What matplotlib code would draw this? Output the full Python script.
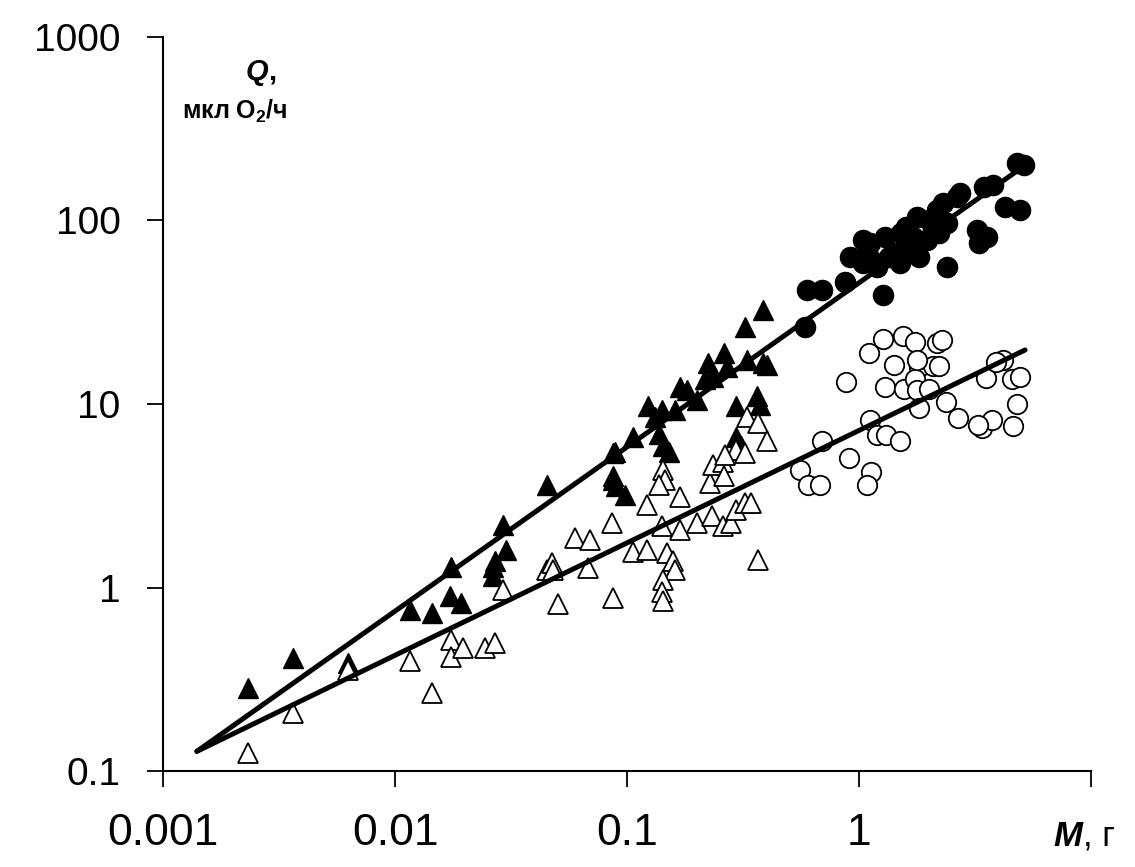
import matplotlib
matplotlib.use("Agg")
import matplotlib.pyplot as plt
from matplotlib.ticker import FixedLocator, NullLocator

plt.rcParams["font.family"] = ["Liberation Sans", "DejaVu Sans"]
plt.rcParams["mathtext.fontset"] = "custom"
plt.rcParams["mathtext.rm"] = "Liberation Sans"
plt.rcParams["mathtext.bf"] = "Liberation Sans:bold"

# open triangles (M, g ; Q, ul O2/h)
tri_open_m = [0.00233, 0.00365, 0.0063, 0.0116, 0.0144, 0.0175, 0.0175, 0.0197, 0.0244, 0.027,
              0.0293, 0.0451, 0.0473, 0.048, 0.0506, 0.0597, 0.0693, 0.068, 0.0859, 0.0873,
              0.1216, 0.106, 0.122, 0.141, 0.1435, 0.146, 0.137, 0.169, 0.148, 0.158,
              0.161, 0.1435, 0.141, 0.1435, 0.169, 0.2, 0.232, 0.228, 0.235, 0.26,
              0.262, 0.26, 0.282, 0.296, 0.323, 0.344, 0.296, 0.323, 0.328, 0.368,
              0.40, 0.368, 0.265]
tri_open_q = [0.126, 0.207, 0.356, 0.40, 0.266, 0.52, 0.42, 0.47, 0.47, 0.50,
              0.97, 1.25, 1.36, 1.25, 0.81, 1.86, 1.82, 1.28, 2.25, 0.88,
              2.83, 1.57, 1.6, 2.15, 4.38, 3.86, 3.63, 3.13, 1.54, 1.39,
              1.25, 1.10, 0.95, 0.84, 2.07, 2.25, 2.44, 3.7, 4.67, 4.8,
              4.03, 2.15, 2.25, 2.66, 2.88, 2.88, 5.64, 5.4, 8.5, 7.9,
              6.25, 1.42, 5.3]

# filled triangles
tri_fill_m = [0.00233, 0.00365, 0.0063, 0.0116, 0.0144, 0.0173, 0.0193, 0.0175, 0.0265, 0.0265,
              0.03, 0.0293, 0.027, 0.0451, 0.0873, 0.09, 0.098, 0.0873, 0.0885, 0.087,
              0.106, 0.1236, 0.132, 0.141, 0.137, 0.1435, 0.151, 0.169, 0.161, 0.2,
              0.224, 0.235, 0.262, 0.27, 0.323, 0.387, 0.328, 0.40, 0.362, 0.376,
              0.296, 0.296, 0.31, 0.216, 0.181, 0.387]
tri_fill_q = [0.284, 0.413, 0.388, 0.757, 0.727, 0.895, 0.823, 1.30, 1.30, 1.15,
              1.61, 2.2, 1.39, 3.63, 3.86, 3.56, 3.2, 5.4, 5.5, 4.03,
              6.65, 9.7, 8.5, 9.3, 6.9, 5.87, 5.5, 12.4, 9.3, 10.5,
              16.7, 14.1, 18.9, 16.0, 26.4, 32.6, 17.4, 16.4, 11.0, 9.9,
              9.7, 6.65, 5.87, 13.6, 11.9, 16.7]

# filled circles
circ_fill_m = [0.585, 0.595, 0.69, 0.87, 0.914, 1.27, 2.39, 1.11, 1.13, 1.29,
               1.35, 1.50, 1.52, 1.66, 1.77, 1.82, 1.96, 2.16, 2.22, 2.64,
               3.21, 3.3, 3.55, 3.47, 3.79, 4.26, 4.94, 4.79, 5.12, 1.04,
               1.08, 1.04, 1.20, 1.45, 1.60, 1.71, 2.0, 2.09, 2.31, 2.39, 2.72]
circ_fill_q = [26.4, 41.9, 41.9, 46.5, 63.6, 39.4, 56.1, 75.2, 61, 81.7,
               63.6, 58.5, 85.3, 72, 105, 63.6, 78.3, 114, 85.3, 135,
               89, 75.2, 81.7, 153, 156, 119, 114, 205, 201, 78.3,
               69, 58.5, 56.1, 66.4, 92.7, 81.7, 101, 89, 124, 96.7, 141]

# open circles
circ_open_m = [0.879, 1.10, 1.27, 1.54, 1.75, 2.16, 2.27, 1.41, 1.82, 2.08,
               2.22, 1.29, 1.56, 1.75, 1.77, 2.0, 1.82, 2.38, 2.66, 3.52,
               4.19, 4.55, 4.94, 4.8, 4.62, 3.4, 3.76, 3.26, 3.9, 1.11,
               1.2, 1.31, 1.5, 0.69, 0.91, 1.13, 0.557, 0.6, 0.68, 1.08, 1.77]
circ_open_q = [13.1, 18.9, 22.5, 23.5, 21.9, 21.5, 22.2, 16.4, 16.0, 16.2,
               16.2, 12.4, 12.0, 13.6, 11.9, 12.0, 9.5, 10.3, 8.4, 13.8,
               17.4, 13.6, 14.1, 10.0, 7.6, 7.4, 8.2, 7.7, 17.0, 8.2,
               6.8, 6.8, 6.25, 6.25, 5.07, 4.28, 4.38, 3.6, 3.6, 3.6, 17.4]

# regression lines
line_m = [0.0014, 5.2]
line_upper_q = [0.128, 200]
line_lower_q = [0.128, 19.7]

x_ticks = [0.001, 0.01, 0.1, 1, 10]
x_labels = ["0.001", "0.01", "0.1", "1", ""]
y_ticks = [0.1, 1, 10, 100, 1000]
y_labels = ["0.1", "1", "10", "100", "1000"]

W, H = 1135, 867
fig = plt.figure(figsize=(W / 100, H / 100), dpi=100)
ax = fig.add_axes([163 / W, 1 - 771 / H, (1091 - 163) / W, (771 - 37) / H])
ax.set_xscale("log")
ax.set_yscale("log")
ax.set_xlim(0.001, 10)
ax.set_ylim(0.1, 1000)

ms = 14.5
ax.plot(tri_fill_m, tri_fill_q, ls="none", marker="^", ms=ms, mfc="black", mec="black", mew=1, zorder=3)
ax.plot(circ_fill_m, circ_fill_q, ls="none", marker="o", ms=ms, mfc="black", mec="black", mew=1, zorder=3)
ax.plot(tri_open_m, tri_open_q, ls="none", marker="^", ms=ms, mfc="white", mec="black", mew=1.3, zorder=4)
ax.plot(circ_open_m, circ_open_q, ls="none", marker="o", ms=ms - 0.5, mfc="white", mec="black", mew=1.3, zorder=4)
ax.plot(line_m, line_upper_q, color="black", lw=3.6, solid_capstyle="round", zorder=5)
ax.plot(line_m, line_lower_q, color="black", lw=3.6, solid_capstyle="round", zorder=5)

for s in ["top", "right"]:
    ax.spines[s].set_visible(False)
for s in ["left", "bottom"]:
    ax.spines[s].set_linewidth(1.5)

ax.xaxis.set_major_locator(FixedLocator(x_ticks))
ax.xaxis.set_minor_locator(NullLocator())
ax.yaxis.set_major_locator(FixedLocator(y_ticks))
ax.yaxis.set_minor_locator(NullLocator())
ax.set_xticklabels(x_labels)
ax.set_yticklabels(y_labels)
ax.tick_params(axis="both", direction="out", length=11.5, width=1.3)
ax.tick_params(axis="x", pad=19, labelsize=32)
ax.tick_params(axis="y", pad=19, labelsize=28)

fig.text(257 / W, 1 - 72 / H, "Q", fontsize=21, fontweight="bold", fontstyle="italic",
         ha="center", va="center")
fig.text(268 / W, 1 - 72 / H, ",", fontsize=21, fontweight="bold", ha="left", va="center")
fig.text(235 / W, 1 - 111 / H, r"мкл O$_\mathbf{2}$/ч", fontsize=18, fontweight="bold",
         ha="center", va="center")

fig.text(1082 / W, 1 - 836 / H, "M", fontsize=25, fontweight="bold", fontstyle="italic",
         ha="right", va="center")
fig.text(1083 / W, 1 - 836 / H, ", г", fontsize=25, ha="left", va="center")

fig.savefig("out.png", dpi=100, facecolor="white")
